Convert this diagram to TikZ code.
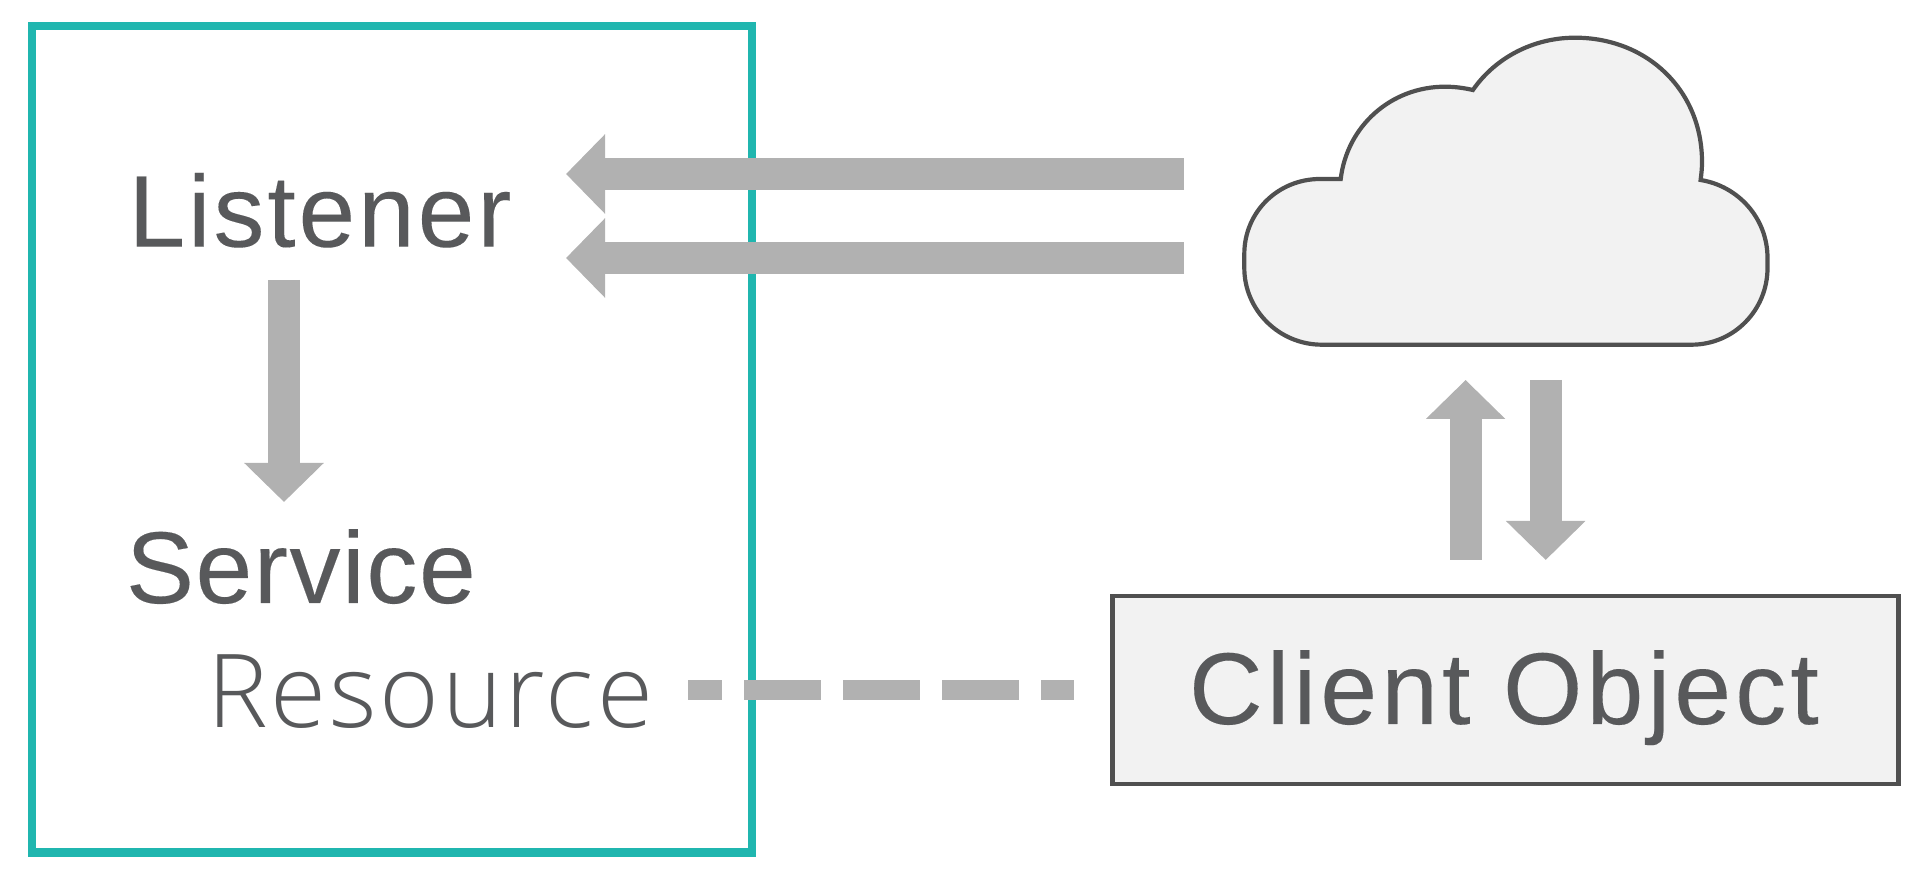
\documentclass[tikz,border=0pt]{standalone}
\usepackage{fontspec}
\usetikzlibrary{arrows.meta}
\newfontfamily\fontreg[LetterSpace=2.8,FakeBold=0.06]{Liberation Sans}
\newfontfamily\fontsrv[LetterSpace=1.6,FakeBold=0.15]{Liberation Sans}
\newfontfamily\fontcli[LetterSpace=4.1,FakeBold=0.15]{Liberation Sans}
\newfontfamily\fontlight[LetterSpace=2.8]{Open Sans Light}
\definecolor{teal}{HTML}{20B6AF}
\definecolor{arrowgray}{HTML}{B1B1B1}
\definecolor{inkgray}{HTML}{58595B}
\definecolor{edgegray}{HTML}{505050}
\definecolor{fillgray}{HTML}{F2F2F2}
\tikzset{
  flow/.style={draw=arrowgray,line width=16pt,line cap=butt,
    -{Triangle[length=19.5pt 0 0,width=38.6pt 0 0,fill=arrowgray]}},
  label/.style={inner sep=0pt,outer sep=0pt,anchor=base west,text=inkgray},
  shapeline/.style={draw=edgegray,fill=fillgray,line width=2.1pt,miter limit=10},
}
\begin{document}
\begin{tikzpicture}[x=0.5pt,y=-0.5pt]
\useasboundingbox (0,0) rectangle (1928,876);
\node[draw=teal,line width=4.25pt,minimum width=360pt,minimum height=413.25pt,inner sep=0pt,outer sep=0pt,anchor=north west] (box) at (32,26) {};
% coordinates
\coordinate (a1s) at (1184,174); \coordinate (a1e) at (566,174);
\coordinate (a2s) at (1184,258); \coordinate (a2e) at (566,258);
\coordinate (a3s) at (284,280); \coordinate (a3e) at (284,502);
\coordinate (a4s) at (1465.6,560); \coordinate (a4e) at (1465.6,380);
\coordinate (a5s) at (1545.7,380); \coordinate (a5e) at (1545.7,560);
\coordinate (d1) at (688,690); \coordinate (d2) at (1074,690);
% cloud
\path[shapeline] (1321.8,344.7) -- (1691.4,344.7)
  .. controls (1734,344.7) and (1767.5,310) .. (1767.5,268) -- (1767.5,258)
  .. controls (1767.5,218) and (1738,186) .. (1700.6,180)
  .. controls (1701.5,173) and (1702,168) .. (1702,162)
  .. controls (1702,90) and (1647,37.7) .. (1575,37.7)
  .. controls (1533,37.7) and (1495,58) .. (1472.9,90)
  .. controls (1464,88) and (1455,86.7) .. (1445,86.7)
  .. controls (1391,86.7) and (1347,126) .. (1340.7,179)
  -- (1320,179)
  .. controls (1278,179) and (1244.3,212) .. (1244.3,254) -- (1244.3,268)
  .. controls (1244.3,310) and (1279,344.7) .. (1321.8,344.7) -- cycle;
% client
\node[shapeline,minimum width=393pt,minimum height=93.85pt,inner sep=0pt,outer sep=0pt,anchor=north west] (client) at (1112.5,596) {};
% arrows
\draw[flow] (a1s) -- (a1e);
\draw[flow] (a2s) -- (a2e);
\draw[flow] (a3s) -- (a3e);
\draw[flow] (a4s) -- (a4e);
\draw[flow] (a5s) -- (a5e);
\draw[arrowgray,line width=10pt,dash pattern=on 38.5pt off 11pt,dash phase=21.5pt] (d1) -- (d2);
% labels
\node[label,font=\fontreg\fontsize{51}{60}\selectfont] (listener) at (128.5,246.7) {Listener};
\node[label,font=\fontsrv\fontsize{51}{60}\selectfont] (service) at (126,603) {Service};
\node[label,font=\fontlight\fontsize{51}{60}\selectfont] (resource) at (207,727.7) {Resource};
\node[label,font=\fontcli\fontsize{51}{60}\selectfont] (clientlabel) at (1189,724) {Client Object};
\end{tikzpicture}
\end{document}
